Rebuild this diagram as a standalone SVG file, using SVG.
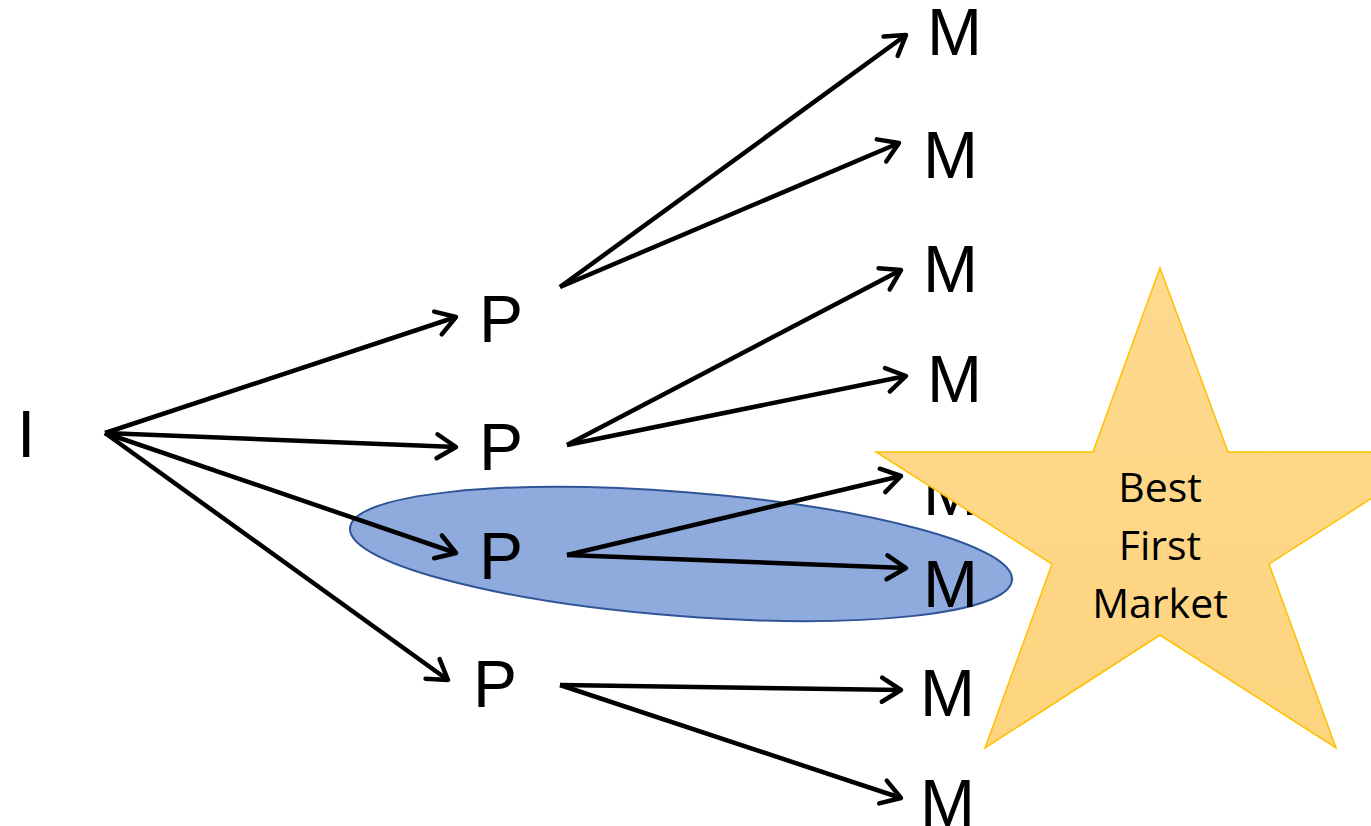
<svg xmlns="http://www.w3.org/2000/svg" width="1371" height="826" viewBox="0 0 1371 826">
<style>
.lbl{font-family:"Liberation Sans",Arial,sans-serif;font-size:66px;fill:#000}
.star{font-family:"Open Sans","Liberation Sans",sans-serif;font-size:41px;fill:#000;text-anchor:middle}
.c line{stroke:#000;stroke-width:4.5;marker-end:url(#ah)}
</style>
<defs>
<marker id="ah" markerUnits="userSpaceOnUse" markerWidth="32" markerHeight="32" viewBox="0 0 32 32" refX="26" refY="16" orient="auto">
<path d="M7,4 L26,16 L7,28" fill="none" stroke="#000" stroke-width="4.5" stroke-linecap="round" stroke-linejoin="round"/>
</marker>
<linearGradient id="sg" x1="0" y1="0" x2="0" y2="1">
<stop offset="0" stop-color="#FED98F"/>
<stop offset="1" stop-color="#FDD47F"/>
</linearGradient>
</defs>
<rect width="1371" height="826" fill="#fff"/>
<g id="ellipse">
<ellipse cx="681" cy="554" rx="332" ry="62" transform="rotate(4.5 681 554)" fill="#8FAADC" stroke="#2F5597" stroke-width="2"/>
</g>
<g id="connectors" class="c">
<line x1="105" y1="433" x2="456" y2="317"/>
<line x1="105" y1="433" x2="456" y2="447"/>
<line x1="105" y1="433" x2="456" y2="553"/>
<line x1="105" y1="433" x2="448" y2="680"/>
<line x1="560" y1="287" x2="906" y2="35"/>
<line x1="560" y1="287" x2="899" y2="143"/>
<line x1="567" y1="445" x2="901" y2="270"/>
<line x1="567" y1="445" x2="906" y2="376"/>
<line x1="567" y1="555" x2="901" y2="476"/>
<line x1="567" y1="555" x2="906" y2="568"/>
<line x1="560" y1="685" x2="901" y2="690"/>
<line x1="560" y1="685" x2="901" y2="798"/>
</g>
<g id="nI"><text class="lbl" x="17" y="457">I</text></g>
<g id="nP1"><text class="lbl" x="479" y="342">P</text></g>
<g id="nP2"><text class="lbl" x="479" y="470">P</text></g>
<g id="nP3"><text class="lbl" x="479" y="579">P</text></g>
<g id="nP4"><text class="lbl" x="473" y="707">P</text></g>
<g id="nM1"><text class="lbl" x="927" y="55">M</text></g>
<g id="nM2"><text class="lbl" x="923" y="178">M</text></g>
<g id="nM3"><text class="lbl" x="923" y="292">M</text></g>
<g id="nM4"><text class="lbl" x="927" y="402">M</text></g>
<g id="nM5"><text class="lbl" x="923" y="515">M</text></g>
<g id="nM6"><text class="lbl" x="923" y="607">M</text></g>
<g id="nM7"><text class="lbl" x="920" y="716">M</text></g>
<g id="nM8"><text class="lbl" x="920" y="826">M</text></g>
<g id="star">
<polygon points="1160,268 1228,452 1444,452 1269,564 1336,748 1160,635 985,748 1052,564 876,452 1093,452" fill="url(#sg)" stroke="#FFC000" stroke-width="1.5" stroke-linejoin="miter"/>
<text class="star" x="1160" y="502">Best</text>
<text class="star" x="1160" y="560">First</text>
<text class="star" x="1160" y="618">Market</text>
</g>
</svg>
